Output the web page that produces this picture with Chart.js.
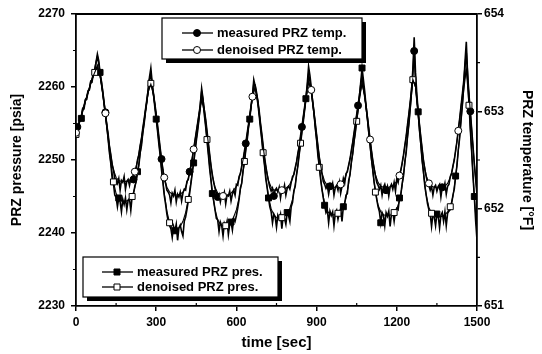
<!DOCTYPE html>
<html>
<head>
<meta charset="utf-8">
<script src="https://cdn.jsdelivr.net/npm/chart.js@4.4.1/dist/chart.umd.min.js"></script>
<style>
  html, body { margin: 0; padding: 0; background: #fff; }
  #wrap { width: 542px; height: 354px; }
</style>
</head>
<body>
<div id="wrap"><canvas id="c" width="542" height="354"></canvas></div>
<script>
// ---------- data ----------
const timeTicks = [0, 300, 600, 900, 1200, 1500];
const presTicks = [2230, 2240, 2250, 2260, 2270];
const tempTicks = [651, 652, 653, 654];
const measuredStep = 5;   // s between measured samples
const denoisedStep = 10;  // s between denoised samples

const seriesLabels = ["measured PRZ temp.", "denoised PRZ temp.", "measured PRZ pres.", "denoised PRZ pres."];

// measured PRZ pressure [psia], every 5 s, 0..1500 s
const measuredPres = [
 2253.2,2254.4,2254.6,2255.6,2255.7,2256.9,2257.0,2258.2,2258.3,2259.4,
 2259.6,2260.8,2260.7,2261.9,2262.3,2263.4,2264.5,2263.6,2262.0,2260.8,
 2259.4,2257.9,2256.2,2254.8,2253.0,2251.0,2249.6,2247.6,2246.8,2245.2,
 2244.9,2243.6,2244.8,2244.3,2242.9,2244.6,2243.9,2244.8,2243.2,2244.5,
 2244.7,2243.1,2245.0,2245.3,2246.4,2247.0,2248.4,2249.2,2251.0,2252.0,
 2253.8,2255.0,2256.7,2258.0,2259.6,2261.4,2262.6,2260.6,2259.0,2257.2,
 2255.6,2254.0,2252.2,2250.6,2248.6,2247.0,2245.2,2244.0,2242.6,2241.6,
 2241.0,2240.6,2239.4,2240.9,2240.3,2241.2,2239.0,2240.7,2241.1,2240.2,
 2239.6,2241.6,2242.2,2243.2,2244.4,2245.4,2246.8,2248.2,2249.6,2251.0,
 2252.6,2254.0,2255.6,2257.6,2259.8,2258.4,2256.2,2254.6,2252.6,2250.8,
 2248.8,2247.2,2245.4,2244.4,2243.2,2242.0,2241.8,2240.2,2241.5,2241.0,
 2239.6,2241.3,2240.8,2241.6,2239.8,2241.2,2241.5,2240.4,2242.0,2241.6,
 2242.4,2243.4,2244.6,2246.2,2246.8,2248.6,2249.6,2251.4,2252.6,2254.4,
 2255.6,2257.4,2258.8,2261.0,2260.2,2259.0,2257.8,2256.2,2254.4,2252.8,
 2250.8,2249.4,2247.4,2246.2,2244.8,2243.6,2242.9,2241.4,2242.6,2242.2,
 2240.8,2242.4,2241.9,2242.6,2240.6,2242.3,2242.0,2241.2,2242.8,2242.4,
 2241.6,2243.6,2244.2,2245.8,2246.4,2248.0,2249.2,2250.8,2252.2,2253.8,
 2255.2,2256.8,2258.4,2260.4,2262.8,2261.6,2260.0,2258.0,2256.6,2254.4,
 2252.8,2250.6,2249.2,2247.4,2246.0,2244.8,2243.8,2242.8,2243.2,2241.4,
 2243.0,2242.4,2242.9,2241.0,2242.7,2243.1,2241.9,2242.8,2243.3,2241.6,
 2243.6,2244.0,2245.2,2245.4,2247.2,2248.0,2249.8,2250.8,2252.6,2253.8,
 2255.6,2256.8,2258.6,2260.6,2262.6,2261.0,2259.4,2257.4,2255.8,2253.8,
 2252.2,2250.2,2248.8,2247.0,2245.8,2244.6,2243.6,2242.9,2241.4,2242.8,
 2242.4,2241.0,2242.8,2242.3,2243.0,2240.9,2242.6,2242.9,2241.6,2243.0,
 2243.4,2243.2,2244.8,2245.2,2246.8,2247.8,2249.8,2251.0,2253.2,2254.8,
 2257.0,2259.4,2262.4,2266.8,2262.0,2259.0,2256.6,2254.0,2252.2,2249.8,
 2248.4,2246.4,2245.2,2244.0,2243.2,2242.6,2240.9,2242.5,2242.2,2241.0,
 2242.6,2242.3,2240.7,2242.4,2242.8,2241.6,2242.9,2241.0,2242.7,2243.0,
 2243.2,2244.0,2245.2,2246.0,2247.8,2249.2,2251.4,2253.0,2255.4,2257.4,
 2260.0,2263.4,2266.2,2261.6,2257.8,2254.2,2251.2,2247.8,2245.0,2241.6,
 2239.0
];

// measured PRZ temperature [°F], every 5 s, 0..1500 s
const measuredTemp = [
 652.76,652.84,652.86,652.93,652.95,653.03,653.05,653.12,653.14,653.21,
 653.23,653.30,653.33,653.39,653.43,653.50,653.56,653.49,653.38,653.30,
 653.20,653.08,652.99,652.86,652.77,652.64,652.56,652.45,652.40,652.31,
 652.30,652.26,652.31,652.19,652.29,652.27,652.33,652.20,652.28,652.30,
 652.24,652.31,652.33,652.30,652.40,652.41,652.50,652.55,652.65,652.72,
 652.83,652.92,653.02,653.12,653.22,653.33,653.38,653.26,653.17,653.08,
 652.97,652.86,652.74,652.62,652.51,652.40,652.31,652.26,652.19,652.17,
 652.14,652.06,652.16,652.13,652.19,652.07,652.15,652.12,652.17,652.08,
 652.16,652.20,652.19,652.28,652.30,652.38,652.44,652.52,652.61,652.70,
 652.79,652.88,652.97,653.07,653.20,653.12,653.01,652.92,652.80,652.68,
 652.56,652.44,652.35,652.27,652.21,652.16,652.12,652.15,652.07,652.14,
 652.12,652.17,652.05,652.14,652.13,652.18,652.08,652.15,652.19,652.14,
 652.25,652.24,652.33,652.36,652.44,652.50,652.59,652.67,652.77,652.86,
 652.96,653.06,653.16,653.28,653.27,653.20,653.11,653.01,652.88,652.77,
 652.65,652.53,652.44,652.35,652.28,652.22,652.18,652.21,652.13,652.19,
 652.21,652.17,652.22,652.11,652.20,652.18,652.24,652.14,652.21,652.23,
 652.20,652.27,652.33,652.35,652.42,652.48,652.57,652.64,652.75,652.84,
 652.94,653.04,653.14,653.25,653.38,653.31,653.21,653.11,652.99,652.88,
 652.76,652.64,652.53,652.44,652.36,652.28,652.25,652.21,652.24,652.15,
 652.23,652.21,652.26,652.14,652.22,652.24,652.19,652.27,652.16,652.23,
 652.31,652.26,652.36,652.38,652.45,652.51,652.60,652.68,652.78,652.87,
 652.97,653.06,653.16,653.27,653.37,653.25,653.15,653.05,652.94,652.83,
 652.71,652.60,652.50,652.41,652.34,652.27,652.24,652.20,652.24,652.14,
 652.22,652.25,652.19,652.23,652.13,652.22,652.25,652.20,652.27,652.18,
 652.31,652.27,652.36,652.39,652.47,652.55,652.65,652.74,652.86,652.97,
 653.09,653.22,653.38,653.62,653.30,653.12,652.99,652.86,652.73,652.61,
 652.49,652.40,652.33,652.27,652.24,652.19,652.23,652.14,652.22,652.24,
 652.18,652.23,652.25,652.12,652.22,652.20,652.26,652.15,652.23,652.25,
 652.33,652.36,652.44,652.50,652.60,652.69,652.81,652.92,653.05,653.17,
 653.30,653.45,653.60,653.38,653.17,653.00,652.82,652.64,652.46,652.30,
 652.14
];

// denoised PRZ pressure [psia], every 10 s, 0..1500 s
const denoisedPres = [
 2253.5,2254.8,2256.0,2257.3,2258.6, 2259.8,2261.0,2262.0,2263.0,2261.5,
 2259.0,2256.0,2252.8,2249.6,2247.0, 2245.4,2244.7,2244.4,2244.3,2244.4,
 2244.6,2245.0,2246.2,2248.2,2250.8, 2253.6,2256.5,2259.3,2260.5,2258.8,
 2255.8,2252.4,2248.8,2245.5,2243.0, 2241.4,2240.6,2240.4,2240.5,2240.9,
 2241.6,2242.8,2244.6,2247.0,2249.8, 2252.8,2255.6,2258.3,2256.5,2252.8,
 2249.0,2245.6,2243.2,2241.8,2241.2, 2241.0,2241.0,2241.2,2241.6,2242.2,
 2243.2,2244.8,2247.0,2249.8,2252.8, 2255.8,2258.6,2260.0,2258.0,2254.6,
 2251.0,2247.6,2245.0,2243.3,2242.5, 2242.1,2242.0,2242.1,2242.3,2242.7,
 2243.4,2244.6,2246.6,2249.3,2252.3, 2255.3,2258.2,2260.8,2259.5,2256.2,
 2252.6,2249.0,2246.0,2244.0,2243.0, 2242.6,2242.5,2242.5,2242.7,2243.0,
 2243.6,2244.8,2246.8,2249.4,2252.3, 2255.3,2258.2,2260.6,2258.8,2255.4,
 2251.8,2248.4,2245.6,2243.8,2242.9, 2242.5,2242.4,2242.4,2242.5,2242.8,
 2243.3,2244.4,2246.4,2249.4,2253.0, 2256.8,2261.0,2260.0,2256.0,2251.8,
 2248.0,2245.2,2243.5,2242.7,2242.3, 2242.2,2242.2,2242.3,2242.5,2242.9,
 2243.6,2245.0,2247.6,2251.2,2255.2, 2259.4,2262.5,2257.5,2251.0,2245.0,
 2240.0
];

// denoised PRZ temperature [°F], every 10 s, 0..1500 s
const denoisedTemp = [
 652.78,652.87,652.96,653.06,653.15, 653.24,653.33,653.40,653.46,653.37,
 653.19,652.98,652.76,652.55,652.40, 652.32,652.29,652.28,652.28,652.28,
 652.29,652.32,652.38,652.49,652.64, 652.82,653.01,653.20,653.28,653.18,
 652.97,652.73,652.50,652.32,652.22, 652.17,652.15,652.14,652.14,652.15,
 652.17,652.22,652.31,652.44,652.61, 652.79,652.97,653.13,653.03,652.79,
 652.55,652.34,652.22,652.16,652.14, 652.13,652.13,652.14,652.16,652.19,
 652.23,652.31,652.43,652.58,652.76, 652.95,653.15,653.25,653.12,652.88,
 652.64,652.43,652.29,652.22,652.19, 652.19,652.19,652.19,652.20,652.22,
 652.25,652.31,652.41,652.56,652.74, 652.94,653.13,653.30,653.22,652.99,
 652.76,652.53,652.37,652.28,652.24, 652.22,652.22,652.22,652.23,652.25,
 652.28,652.34,652.44,652.59,652.77, 652.97,653.15,653.28,653.16,652.94,
 652.71,652.50,652.35,652.27,652.23, 652.22,652.22,652.22,652.23,652.25,
 652.28,652.34,652.46,652.64,652.85, 653.09,653.33,653.25,653.00,652.73,
 652.49,652.34,652.26,652.23,652.22, 652.22,652.22,652.22,652.23,652.26,
 652.32,652.43,652.59,652.80,653.04, 653.28,653.43,653.18,652.82,652.46,
 652.16
];

// ---------- chart ----------
const FONT = "'Liberation Sans', Arial, Helvetica, sans-serif";
Chart.defaults.font.family = FONT;
Chart.defaults.color = '#000';

function toXY(values, step) {
  return values.map((v, i) => ({ x: i * step, y: v }));
}
function markerEvery(n, offset, r) {
  return ctx => (ctx.dataIndex % n === offset ? r : 0);
}

const frameAndLegends = {
  id: 'frameAndLegends',
  beforeDraw(chart) {
    const c = chart.ctx;
    c.save();
    c.fillStyle = '#fff';
    c.fillRect(0, 0, chart.width, chart.height);
    c.restore();
  },
  afterDraw(chart) {
    const c = chart.ctx;
    const a = chart.chartArea;
    const xs = chart.scales.x, yp = chart.scales.yP, yt = chart.scales.yT;
    c.save();
    c.strokeStyle = '#000';
    c.lineWidth = 1.8;
    c.beginPath();
    c.moveTo(a.left, a.top);
    c.lineTo(a.right, a.top);
    c.stroke();
    c.lineWidth = 1.2;
    c.beginPath();
    for (let i = 0; i < timeTicks.length - 1; i++) {
      const px = xs.getPixelForValue((timeTicks[i] + timeTicks[i + 1]) / 2);
      c.moveTo(px, a.bottom); c.lineTo(px, a.bottom - 3);
    }
    for (let i = 0; i < presTicks.length - 1; i++) {
      const py = yp.getPixelForValue((presTicks[i] + presTicks[i + 1]) / 2);
      c.moveTo(a.left, py); c.lineTo(a.left - 3, py);
    }
    for (let i = 0; i < tempTicks.length - 1; i++) {
      const py = yt.getPixelForValue((tempTicks[i] + tempTicks[i + 1]) / 2);
      c.moveTo(a.right, py); c.lineTo(a.right + 3, py);
    }
    c.stroke();

    const ds = chart.data.datasets;
    drawLegendBox(c, 162, 18, 200, 41, [ds[0], ds[1]], 33, 17, 182);
    drawLegendBox(c, 83, 257, 195, 40, [ds[2], ds[3]], 272, 15, 102);
    c.restore();
  }
};

function drawMarker(c, style, x, y, fill) {
  c.fillStyle = fill;
  c.strokeStyle = '#000';
  c.lineWidth = 1;
  c.beginPath();
  if (style === 'circle') {
    c.arc(x, y, 3.5, 0, Math.PI * 2);
  } else {
    c.rect(x - 3, y - 3, 6, 6);
  }
  c.fill();
  c.stroke();
}

function drawLegendBox(c, x, y, w, h, entries, firstY, gap, lineX) {
  c.fillStyle = '#000';
  c.fillRect(x + 4, y + 4, w, h);
  c.fillStyle = '#fff';
  c.fillRect(x, y, w, h);
  c.strokeStyle = '#000';
  c.lineWidth = 1.2;
  c.strokeRect(x, y, w, h);
  entries.forEach((d, i) => {
    const yy = firstY + i * gap;
    c.strokeStyle = '#000';
    c.lineWidth = 1.3;
    c.beginPath();
    c.moveTo(lineX, yy);
    c.lineTo(lineX + 31, yy);
    c.stroke();
    drawMarker(c, d.pointStyle, lineX + 15, yy, d.pointBackgroundColor);
    c.fillStyle = '#000';
    c.font = 'bold 13px ' + FONT;
    c.textAlign = 'left';
    c.textBaseline = 'middle';
    c.fillText(d.label, lineX + 35, yy + 0.5);
  });
}

const tickFont = { family: FONT, size: 12, weight: 'bold' };

new Chart(document.getElementById('c'), {
  type: 'line',
  data: {
    datasets: [
      {
        label: seriesLabels[0], data: toXY(measuredTemp, measuredStep), yAxisID: 'yT',
        borderColor: '#000', borderWidth: 1.6, tension: 0,
        pointStyle: 'circle', pointBackgroundColor: '#000', pointBorderColor: '#000', pointBorderWidth: 1,
        pointRadius: markerEvery(21, 1, 3.5), order: 2
      },
      {
        label: seriesLabels[1], data: toXY(denoisedTemp, denoisedStep), yAxisID: 'yT',
        borderColor: '#000', borderWidth: 1.1, tension: 0,
        pointStyle: 'circle', pointBackgroundColor: '#fff', pointBorderColor: '#000', pointBorderWidth: 1,
        pointRadius: markerEvery(11, 0, 3.5), order: 0
      },
      {
        label: seriesLabels[2], data: toXY(measuredPres, measuredStep), yAxisID: 'yP',
        borderColor: '#000', borderWidth: 1.6, tension: 0,
        pointStyle: 'rect', pointBackgroundColor: '#000', pointBorderColor: '#000', pointBorderWidth: 1,
        pointRadius: markerEvery(14, 4, 4.2), order: 3
      },
      {
        label: seriesLabels[3], data: toXY(denoisedPres, denoisedStep), yAxisID: 'yP',
        borderColor: '#000', borderWidth: 1.1, tension: 0,
        pointStyle: 'rect', pointBackgroundColor: '#fff', pointBorderColor: '#000', pointBorderWidth: 1,
        pointRadius: markerEvery(7, 0, 4.2), order: 1
      }
    ]
  },
  options: {
    responsive: false,
    animation: false,
    devicePixelRatio: 1,
    layout: { padding: { top: 14, left: 0, right: 0, bottom: 0 } },
    plugins: { legend: { display: false }, tooltip: { enabled: false } },
    scales: {
      x: {
        type: 'linear', min: timeTicks[0], max: timeTicks[timeTicks.length - 1],
        afterBuildTicks: s => { s.ticks = timeTicks.map(v => ({ value: v })); },
        ticks: { font: tickFont, color: '#000', padding: 4, maxRotation: 0, callback: v => String(v) },
        grid: { display: true, drawOnChartArea: false, drawTicks: true, tickLength: 5, color: '#000', lineWidth: 1.5 },
        border: { display: true, color: '#000', width: 1.8 },
        title: { display: true, text: 'time [sec]', color: '#000', font: { family: FONT, size: 15, weight: 'bold' }, padding: { top: 2, bottom: 2 } },
        afterFit: s => { s.height = 48; }
      },
      yP: {
        type: 'linear', position: 'left', min: presTicks[0], max: presTicks[presTicks.length - 1],
        afterBuildTicks: s => { s.ticks = presTicks.map(v => ({ value: v })); },
        ticks: { font: tickFont, color: '#000', padding: 6, callback: v => String(v) },
        grid: { display: true, drawOnChartArea: false, drawTicks: true, tickLength: 5, color: '#000', lineWidth: 1.5 },
        border: { display: true, color: '#000', width: 1.8 },
        title: { display: true, text: 'PRZ pressure [psia]', color: '#000', font: { family: FONT, size: 14, weight: 'bold' }, padding: { top: 9, bottom: 0 } },
        afterFit: s => { s.width = 76; }
      },
      yT: {
        type: 'linear', position: 'right', min: tempTicks[0], max: tempTicks[tempTicks.length - 1],
        afterBuildTicks: s => { s.ticks = tempTicks.map(v => ({ value: v })); },
        ticks: { font: tickFont, color: '#000', padding: 2, callback: v => String(v) },
        grid: { display: true, drawOnChartArea: false, drawTicks: true, tickLength: 5, color: '#000', lineWidth: 1.5 },
        border: { display: true, color: '#000', width: 1.8 },
        title: { display: true, text: 'PRZ temperature [°F]', color: '#000', font: { family: FONT, size: 14, weight: 'bold' }, padding: { top: 7, bottom: 0 } },
        afterFit: s => { s.width = 65; }
      }
    }
  },
  plugins: [frameAndLegends]
});
</script>
</body>
</html>
